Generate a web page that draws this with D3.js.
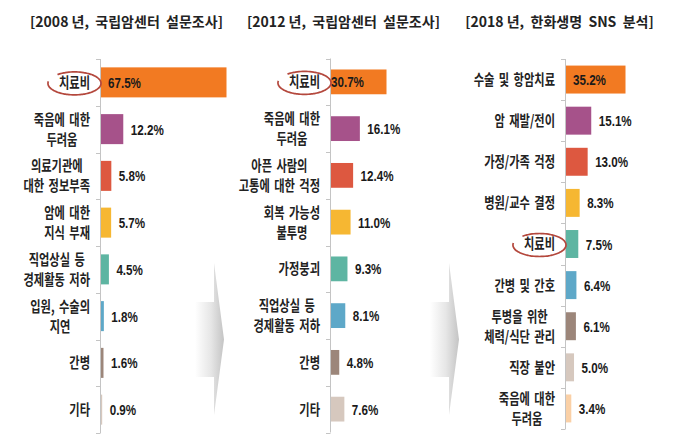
<!DOCTYPE html>
<html><head><meta charset="utf-8">
<script src="https://cdn.jsdelivr.net/npm/d3@7"></script>
<style>
html,body{margin:0;padding:0;background:#fff;}
svg{display:block;}
</style></head>
<body>
<svg id="chart" width="680" height="441"></svg>
<script>
// ---- data ----
const titles = ["[2008 년,  국립암센터  설문조사]", "[2012 년,  국립암센터  설문조사]", "[2018 년,  한화생명  SNS  분석]"];
const cats2008 = ["치료비", "죽음에 대한\n두려움", "의료기관에\n대한 정보부족", "암에 대한\n지식 부재", "직업상실 등\n경제활동 저하", "입원, 수술의\n지연", "간병", "기타"];
const vals2008 = [67.5, 12.2, 5.8, 5.7, 4.5, 1.8, 1.6, 0.9];
const cats2012 = ["치료비", "죽음에 대한\n두려움", "아픈 사람의\n고통에 대한 걱정", "회복 가능성\n불투명", "가정붕괴", "직업상실 등\n경제활동 저하", "간병", "기타"];
const vals2012 = [30.7, 16.1, 12.4, 11.0, 9.3, 8.1, 4.8, 7.6];
const cats2018 = ["수술 및 항암치료", "암 재발/전이", "가정/가족 걱정", "병원/교수 결정", "치료비", "간병 및 간호", "투병을 위한\n체력/식단 관리", "직장 불안", "죽음에 대한\n두려움"];
const vals2018 = [35.2, 15.1, 13.0, 8.3, 7.5, 6.4, 6.1, 5.0, 3.4];
const circled = "치료비";
const palette = ["#F27A22", "#A6528A", "#DD5840", "#F6B732", "#5EB5A2", "#5EA8C8", "#9C867A", "#D6C8BE", "#FAD0A6"];

// ---- layout ----
const panels = [
  {title: titles[0], cats: cats2008, vals: vals2008, axisX: 100, y0: 59, y1: 433, pad: 0.358, maxW: 126, insideDx: 8, titleX: 126.5},
  {title: titles[1], cats: cats2012, vals: vals2012, axisX: 330, y0: 58.5, y1: 432.5, pad: 0.47, maxW: 56, insideDx: 1, titleX: 343.5},
  {title: titles[2], cats: cats2018, vals: vals2018, axisX: 565, y0: 59, y1: 429, pad: 0.32, maxW: 60, insideDx: 8, titleX: 559.5}
];
const arrows = [{x0: 195, xm: 214, tip: 224}, {x0: 430, xm: 449, tip: 459}];
const SX = 0.75;

const svg = d3.select("#chart");
const defs = svg.append("defs");
arrows.forEach((a, i) => {
  const g = defs.append("linearGradient").attr("id", "ag" + i)
    .attr("gradientUnits", "userSpaceOnUse").attr("x1", a.x0).attr("x2", a.tip).attr("y1", 0).attr("y2", 0);
  g.append("stop").attr("offset", 0).attr("stop-color", "#ffffff");
  g.append("stop").attr("offset", 0.55).attr("stop-color", "#e6e6e6");
  g.append("stop").attr("offset", 1).attr("stop-color", "#c4c4c4");
  const ry0 = 302, ry1 = 377, hy0 = 263, hy1 = 415, ty = 339.5;
  svg.append("path")
    .attr("d", `M${a.x0},${ry0}L${a.xm},${ry0}L${a.xm},${hy0}L${a.tip},${ty}L${a.xm},${hy1}L${a.xm},${ry1}L${a.x0},${ry1}Z`)
    .attr("fill", `url(#ag${i})`);
});

panels.forEach(p => {
  const g = svg.append("g");
  const x = d3.scaleLinear().domain([0, d3.max(p.vals)]).range([p.axisX, p.axisX + p.maxW]);
  const y = d3.scaleBand().domain(p.cats).range([p.y0, p.y1]).paddingInner(p.pad).paddingOuter(p.pad / 2);
  const step = y.step();
  const bandC = c => y(c) + y.bandwidth() / 2;

  // title
  svg.append("text").attr("x", p.titleX).attr("y", 27)
    .attr("text-anchor", "middle")
    .style("white-space", "pre")
    .attr("font-family", "'Noto Sans CJK KR', sans-serif").attr("font-weight", "bold").attr("font-size", 14)
    .attr("fill", "#222").text(p.title);

  // bars
  g.selectAll("rect.bar").data(p.vals).join("rect")
    .attr("x", p.axisX + 0.5).attr("y", (d, i) => y(p.cats[i]))
    .attr("width", d => x(d) - p.axisX).attr("height", y.bandwidth())
    .attr("fill", (d, i) => palette[i]);

  // axis line + ticks
  g.append("line").attr("x1", p.axisX + 0.5).attr("x2", p.axisX + 0.5).attr("y1", p.y0).attr("y2", p.y1)
    .attr("stroke", "#c4c4c4").attr("stroke-width", 1);
  g.selectAll("line.tk").data(d3.range(p.cats.length + 1)).join("line").attr("class", "tk")
    .attr("x1", p.axisX - 4).attr("x2", p.axisX + 0.5)
    .attr("y1", i => Math.round(p.y0 + i * step) + 0.5).attr("y2", i => Math.round(p.y0 + i * step) + 0.5)
    .attr("stroke", "#c4c4c4");

  // value labels
  p.vals.forEach((v, i) => {
    const tx = i === 0 ? p.axisX + p.insideDx : x(v) + 8;
    g.append("text").attr("transform", `translate(${tx},${bandC(p.cats[i])}) scale(${SX},1)`)
      .attr("dy", "0.36em")
      .attr("font-family", "'Liberation Sans', Arial, sans-serif").attr("font-weight", "bold").attr("font-size", 15.5)
      .attr("fill", "#1a1a1a").text(v.toFixed(1) + "%");
  });

  // category labels
  const labelRight = p.axisX - 10;
  p.cats.forEach(c => {
    const lines = c.split("\n");
    const lg = g.append("g").attr("transform", `translate(${labelRight},${bandC(c)}) scale(${SX},1)`);
    const ts = lines.map((ln, k) => lg.append("text")
      .attr("y", (k - (lines.length - 1) / 2) * 20)
      .attr("dy", "0.36em")
      .attr("text-anchor", "middle")
      .attr("word-spacing", 2.5)
      .attr("font-family", "'Noto Sans CJK KR', sans-serif").attr("font-weight", "bold").attr("font-size", 15)
      .attr("fill", "#222").text(ln));
    const maxW = d3.max(ts, t => t.node().getComputedTextLength());
    ts.forEach(t => t.attr("x", -maxW / 2));
    if (c === circled) {
      const cx = labelRight - maxW * SX / 2, cy = bandC(c) + 1;
      const rx = maxW * SX / 2 + 11, ry = 11.5;
      const pts = d3.range(230, 552, 4).map(a => {
        const t = a * Math.PI / 180;
        return [cx + rx * Math.cos(t), cy + ry * Math.sin(t)];
      });
      g.append("path").attr("d", d3.line().curve(d3.curveCatmullRom)(pts))
        .attr("fill", "none").attr("stroke", "#B4483D").attr("stroke-width", 1.7);
    }
  });
});
</script>
</body></html>
